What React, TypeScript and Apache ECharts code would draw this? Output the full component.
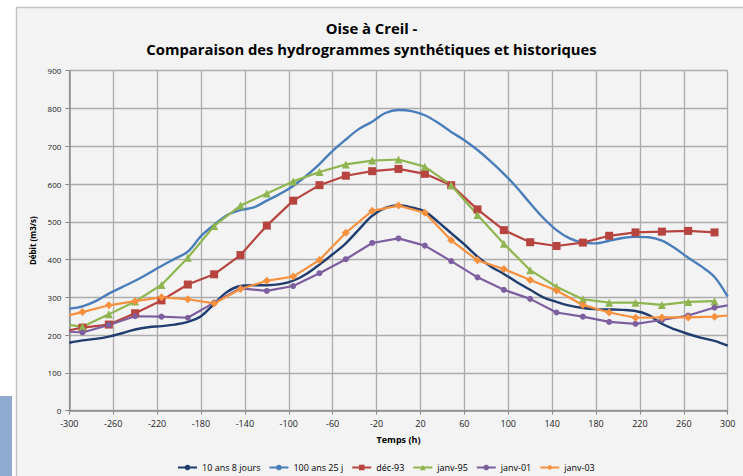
import React, { useEffect, useRef } from "react";
import * as echarts from "echarts";

const titleLines = ["Oise à Creil -", "Comparaison des hydrogrammes synthétiques et historiques"];
const xAxisName = "Temps (h)";
const yAxisName = "Débit (m3/s)";
const seriesNames = ["10 ans 8 jours", "100 ans 25 j", "déc-93", "janv-95", "janv-01", "janv-03"];

// hours for smooth synthetic curves
const smoothHours = [
  -300, -288, -276, -264, -252, -240, -228, -216, -204, -192, -180, -168, -156, -144, -132, -120, -108,
  -96, -84, -72, -60, -48, -36, -24, -12, 0, 12, 24, 36, 48, 60, 72, 84, 96, 108, 120, 132, 144, 156,
  168, 180, 192, 204, 216, 228, 240, 252, 264, 276, 288, 300,
];
const tenYears8Days = [
  180, 186, 190, 196, 205, 215, 221, 224, 228, 235, 250, 283, 315, 330, 332, 332, 335,
  344, 362, 387, 414, 443, 480, 516, 537, 544, 538, 527, 500, 470, 440, 408, 382, 362, 340, 320, 300, 288, 278,
  272, 269, 268, 267, 264, 253, 230, 215, 203, 193, 185, 172,
];
const hundredYears25Days = [
  270, 276, 290, 310, 327, 344, 363, 383, 402, 421, 462, 492, 518, 531, 538, 556, 574,
  595, 622, 653, 688, 718, 746, 765, 788, 796, 793, 782, 762, 738, 716, 690, 660, 627, 590, 549, 510, 478, 456,
  445, 443, 450, 457, 460, 459, 450, 430, 405, 382, 354, 302,
];

// hours for historical floods (markers every 24 h, line starts at -300)
const histHours = [
  -300, -288, -264, -240, -216, -192, -168, -144, -120, -96, -72, -48, -24, 0, 24, 48, 72, 96, 120, 144,
  168, 192, 216, 240, 264, 288, 300,
];
const dec93 = [
  213, 220, 228, 258, 292, 334, 361, 412, 490, 556, 597, 622, 634, 640, 627, 597, 533, 478, 446, 436,
  445, 463, 472, 474, 476, 472, null,
];
const jan95 = [
  227, 222, 255, 289, 333, 405, 489, 543, 575, 607, 632, 652, 662, 665, 646, 597, 518, 442, 372, 328,
  295, 286, 286, 280, 288, 290, null,
];
const jan01 = [
  209, 207, 227, 250, 249, 246, 286, 324, 317, 330, 364, 401, 444, 456, 437, 396, 353, 320, 296, 260,
  249, 235, 230, 240, 252, 273, 279,
];
const jan03 = [
  253, 261, 279, 290, 300, 295, 284, 322, 344, 355, 399, 471, 529, 543, 524, 451, 398, 375, 346, 318,
  280, 260, 246, 247, 247, 249, 252,
];

const colors = ["#1f3d6e", "#4a7ebb", "#b7443f", "#8fb550", "#7d5fa0", "#f7913f"];
const FONT = "'Open Sans', 'Liberation Sans', sans-serif";

function pairs(xs: number[], ys: (number | null)[]) {
  return xs.map((x, i) => (ys[i] === null ? [x, null] : [x, ys[i]]));
}

function histData(xs: number[], ys: (number | null)[]) {
  return xs.map((x, i) => {
    const v = ys[i];
    if (v === null) return [x, null];
    if (x === -300 || x === 300) return { value: [x, v], symbol: "none" };
    return [x, v];
  });
}

export default function App() {
  const ref = useRef<HTMLDivElement>(null);
  useEffect(() => {
    if (!ref.current) return;
    const chart = echarts.init(ref.current, undefined, { renderer: "svg" });
    const markerSeries = (name: string, color: string, vals: (number | null)[], symbol: string, size: number) => ({
      name,
      type: "line",
      data: histData(histHours, vals),
      symbol,
      symbolSize: size,
      showAllSymbol: true,
      lineStyle: { color, width: 2.2 },
      itemStyle: { color },
      z: 3,
    });
    chart.setOption({
      animation: false,
      backgroundColor: "#ffffff",
      color: colors,
      textStyle: { fontFamily: FONT },
      graphic: [
        {
          type: "rect",
          z: -10,
          silent: true,
          shape: { x: 16.5, y: 7.5, width: 740, height: 480 },
          style: { fill: "#f3f3f3", stroke: "#c4c4c4", lineWidth: 1.5 },
        },
        {
          type: "rect",
          z: -10,
          silent: true,
          shape: { x: 0, y: 396, width: 12, height: 80 },
          style: { fill: "#8fa9d0" },
        },
      ],
      title: {
        text: titleLines.join("\n"),
        left: "center",
        top: 12,
        textStyle: { fontFamily: FONT, fontSize: 14.8, fontWeight: "bold", color: "#000", lineHeight: 21 },
      },
      legend: {
        left: 172,
        top: 458,
        itemWidth: 19,
        itemHeight: 7,
        itemGap: 8,
        textStyle: { fontFamily: FONT, fontSize: 9, color: "#000" },
        data: seriesNames,
      },
      grid: { left: 69.3, right: 15.3, top: 70.7, bottom: 65.3, containLabel: false },
      xAxis: {
        type: "value",
        min: -300,
        max: 300,
        interval: 40,
        name: xAxisName,
        nameLocation: "middle",
        nameGap: 24,
        nameTextStyle: { fontFamily: FONT, fontSize: 9, fontWeight: "bold", color: "#000" },
        axisLine: { show: true, onZero: false, lineStyle: { color: "#8c8c8c", width: 1.5 } },
        axisTick: { show: true, length: 4, lineStyle: { color: "#8c8c8c" } },
        axisLabel: { fontFamily: FONT, fontSize: 9, color: "#222", margin: 8 },
        splitLine: { show: true, lineStyle: { color: "#acacac", width: 1.3 } },
      },
      yAxis: {
        type: "value",
        min: 0,
        max: 900,
        interval: 100,
        name: yAxisName,
        nameLocation: "middle",
        nameRotate: 90,
        nameGap: 31,
        nameTextStyle: { fontFamily: FONT, fontSize: 8, fontWeight: "bold", color: "#000" },
        axisLine: { show: true, onZero: false, lineStyle: { color: "#8c8c8c", width: 1.5 } },
        axisTick: { show: true, length: 4, lineStyle: { color: "#8c8c8c" } },
        axisLabel: { fontFamily: FONT, fontSize: 8, color: "#222", margin: 8 },
        splitLine: { show: true, lineStyle: { color: "#acacac", width: 1.3 } },
      },
      series: [
        {
          name: seriesNames[0],
          type: "line",
          data: pairs(smoothHours, tenYears8Days),
          smooth: 0.35,
          symbol: "none",
          lineStyle: { color: colors[0], width: 2.4 },
          itemStyle: { color: colors[0] },
          z: 2,
        },
        {
          name: seriesNames[1],
          type: "line",
          data: pairs(smoothHours, hundredYears25Days),
          smooth: 0.35,
          symbol: "none",
          lineStyle: { color: colors[1], width: 2.4 },
          itemStyle: { color: colors[1] },
          z: 2,
        },
        markerSeries(seriesNames[2], colors[2], dec93, "rect", 8),
        markerSeries(seriesNames[3], colors[3], jan95, "triangle", 8),
        markerSeries(seriesNames[4], colors[4], jan01, "circle", 6),
        markerSeries(seriesNames[5], colors[5], jan03, "diamond", 8),
      ],
    });
    return () => chart.dispose();
  }, []);
  return <div ref={ref} style={{ position: "fixed", left: 0, top: 0, width: 743, height: 476 }} />;
}
